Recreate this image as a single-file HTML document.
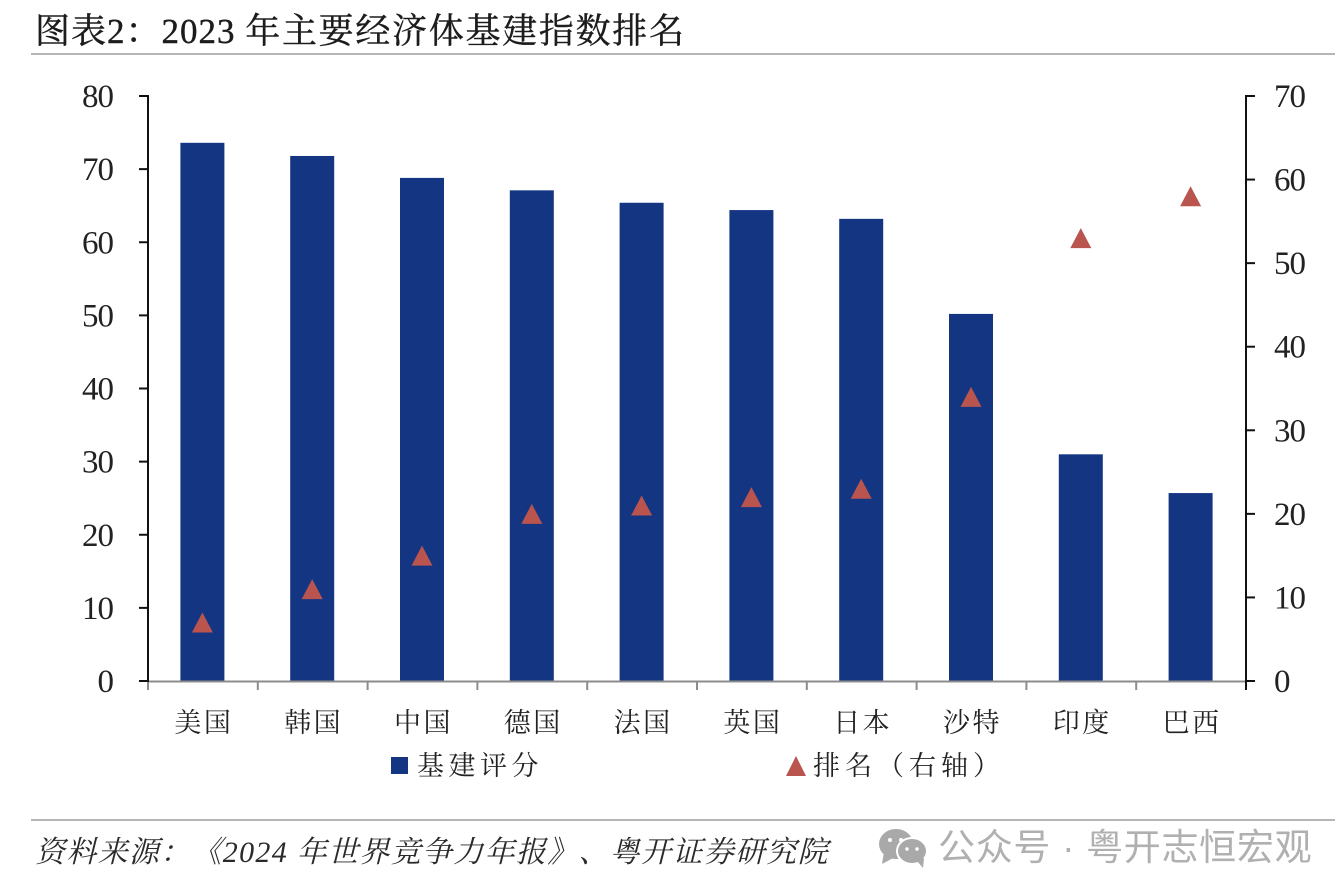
<!DOCTYPE html>
<html lang="zh">
<head>
<meta charset="utf-8">
<title>图表2&#xFF1A;2023 年主要经济体基建指数排名</title>
<style>
html,body{margin:0;padding:0;background:#fff;width:1336px;height:888px;overflow:hidden}
svg{display:block;font-family:"Liberation Serif","Noto Serif CJK SC",serif;text-spacing-trim:space-all;font-feature-settings:"palt" 0}
</style>
</head>
<body>
<svg id="chart" width="1336" height="888" viewBox="0 0 1336 888" xmlns="http://www.w3.org/2000/svg">
  <text x="35" y="43" font-size="35" letter-spacing="1" fill="#1c1c1c" stroke="#1c1c1c" stroke-width="0.4">图表2&#xFF1A;2023 <tspan letter-spacing="1.7">年主要经济体基建指数排名</tspan></text>
  <rect x="31" y="53" width="1304" height="2" fill="#b5b5b5"></rect>
  <g id="plot"></g>
  <rect x="391" y="757" width="17" height="17" fill="#143582"></rect>
  <text x="417" y="775" font-size="27" letter-spacing="4.5" fill="#222">基建评分</text>
  <polygon points="786,776 806,776 796,756" fill="#b9544f"></polygon>
  <text x="813" y="775" font-size="27" letter-spacing="5" fill="#222">排名&#xFF08;右轴&#xFF09;</text>
  <rect x="31" y="819" width="1304" height="2" fill="#b5b5b5"></rect>
  <text x="35" y="862" font-size="30" letter-spacing="1.3" font-style="italic" fill="#2a2a2a">资料来源&#xFF1A;《2024 年世界竞争力年报》、粤开证券研究院</text>
  <g fill="#a9a9a9">
    <ellipse cx="896" cy="844" rx="17" ry="15"></ellipse>
    <polygon points="884,852 882,864 895,857"></polygon>
    <ellipse cx="912" cy="851" rx="15" ry="13" stroke="#fff" stroke-width="2"></ellipse>
    <polygon points="917,861 923,868 924,858"></polygon>
    <circle cx="890" cy="840" r="2" fill="#fff"></circle>
    <circle cx="901" cy="840" r="2" fill="#fff"></circle>
    <circle cx="907" cy="849" r="1.7" fill="#fff"></circle>
    <circle cx="917" cy="849" r="1.7" fill="#fff"></circle>
  </g>
  <text x="938" y="860" font-size="37" letter-spacing="0.7" fill="#b0b0b0" font-family="'Liberation Sans','Noto Sans CJK SC',sans-serif">公众号 · 粤开志恒宏观</text>
</svg>
<script>
const categories = ['美国','韩国','中国','德国','法国','英国','日本','沙特','印度','巴西'];
const scoreValues = [73.6,71.8,68.8,67.1,65.4,64.4,63.2,50.2,31.0,25.7];
const rankValues = [7,11,15,20,21,22,23,34,53,58];
const leftTicks = [0,10,20,30,40,50,60,70,80];
const rightTicks = [0,10,20,30,40,50,60,70];

const NS = 'http://www.w3.org/2000/svg';
const plot = document.getElementById('plot');
const X0 = 148, X1 = 1246, Y0 = 681, Y1 = 96;
const leftMax = 80, rightMax = 70;
const bandW = (X1 - X0) / categories.length;
const xCenter = i => X0 + bandW * (i + 0.5);
const yLeft = v => Y0 - (v / leftMax) * (Y0 - Y1);
const yRight = v => Y0 - (v / rightMax) * (Y0 - Y1);

function make(tag, attrs, text) {
  const el = document.createElementNS(NS, tag);
  for (const k in attrs) el.setAttribute(k, attrs[k]);
  if (text !== undefined) el.textContent = text;
  plot.appendChild(el);
  return el;
}

categories.forEach((c, i) => {
  const top = yLeft(scoreValues[i]);
  const bar = make('rect', {x: xCenter(i) - 22.5, y: top, width: 44, height: Y0 - top, fill: '#143582'});
  
  
});

const xAxis = make('line', {x1: X0, x2: X1, y1: Y0 + 0.5, y2: Y0 + 0.5, stroke: '#8c8c8c', 'stroke-width': 2});



for (let i = 0; i <= categories.length; i++) {
  const x = X0 + bandW * i;
  const t = make('line', {x1: x, x2: x, y1: Y0, y2: Y0 + 9, stroke: '#8c8c8c', 'stroke-width': 2});
  
  
}

categories.forEach((c, i) => {
  const t = make('text', {x: xCenter(i) + 1, y: 732, 'font-size': 27, 'letter-spacing': 2.5, 'text-anchor': 'middle', fill: '#222'}, c);
  
  
});

const leftAxis = make('line', {x1: X0, x2: X0, y1: Y1 - 1, y2: Y0 + 1, stroke: '#111', 'stroke-width': 2});



leftTicks.forEach(v => {
  const y = yLeft(v);
  const m = make('line', {x1: X0 - 9, x2: X0, y1: y, y2: y, stroke: '#111', 'stroke-width': 2});
  
  
  const t = make('text', {x: 113, y: y + 11, 'font-size': 33, 'letter-spacing': -1, 'text-anchor': 'end', fill: '#222'}, v);
  
  
});

const rightAxis = make('line', {x1: X1, x2: X1, y1: Y1 - 1, y2: Y0 + 9, stroke: '#111', 'stroke-width': 2});



rightTicks.forEach(v => {
  const y = yRight(v);
  const m = make('line', {x1: X1, x2: X1 + 9, y1: y, y2: y, stroke: '#111', 'stroke-width': 2});
  
  
  const t = make('text', {x: 1274, y: y + 11, 'font-size': 33, 'letter-spacing': -1, fill: '#222'}, v);
  
  
});

categories.forEach((c, i) => {
  const x = xCenter(i) - 0.5, y = yRight(rankValues[i]);
  const p = make('polygon', {points: `${x - 10.5},${y + 10} ${x + 10.5},${y + 10} ${x},${y - 10}`, fill: '#b9544f'});
  
  
});
</script>
</body>
</html>
